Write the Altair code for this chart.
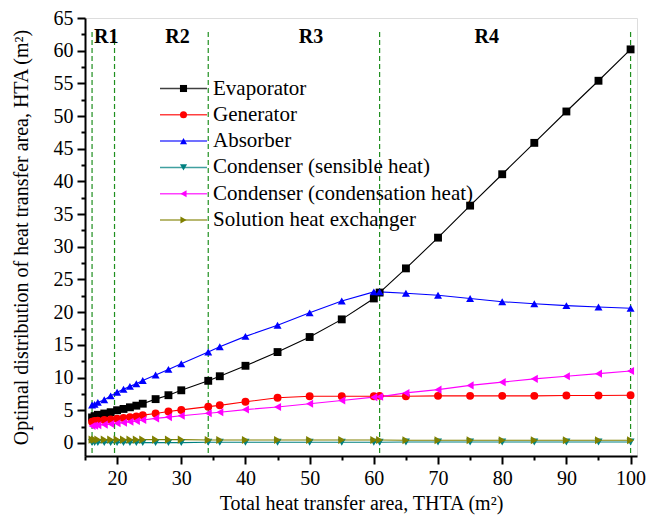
import altair as alt
import pandas as pd

# ---- data ----
thta = [16.1, 16.5, 17, 18, 19, 20, 21, 22, 23, 24, 26, 28, 30, 34.2, 36, 40,
        45, 50, 55, 60, 60.9, 65, 70, 75, 80, 85, 90, 95, 100]

evaporator = [3.9, 4.1, 4.3, 4.5, 4.7, 5.0, 5.2, 5.45, 5.7, 6.0, 6.7, 7.3, 8.05, 9.5, 10.2, 11.8,
              13.9, 16.2, 18.9, 22.1, 23.0, 26.7, 31.4, 36.3, 41.1, 45.9, 50.7, 55.4, 60.2]
generator = [3.25, 3.35, 3.4, 3.5, 3.6, 3.7, 3.8, 3.95, 4.05, 4.25, 4.5, 4.8, 5.05, 5.55, 5.75, 6.3,
             6.9, 7.15, 7.15, 7.15, 7.2, 7.15, 7.2, 7.2, 7.2, 7.2, 7.25, 7.25, 7.3]
absorber = [5.8, 5.9, 6.2, 6.6, 7.2, 7.75, 8.2, 8.65, 9.05, 9.55, 10.4, 11.25, 12.1, 13.9, 14.7, 16.3,
            18.0, 19.9, 21.7, 23.1, 23.1, 22.9, 22.6, 22.1, 21.6, 21.3, 21.0, 20.8, 20.6]
cond_sensible = [0.05, 0.05, 0.05, 0.05, 0.05, 0.05, 0.05, 0.05, 0.05, 0.05, 0.05, 0.05, 0.05, 0.1, 0.1, 0.1,
                 0.1, 0.1, 0.1, 0.1, 0.1, 0.15, 0.15, 0.15, 0.15, 0.15, 0.15, 0.15, 0.15]
cond_condensation = [2.6, 2.65, 2.7, 2.8, 2.9, 3.0, 3.1, 3.25, 3.35, 3.5, 3.75, 3.95, 4.15, 4.55, 4.7, 5.1,
                     5.5, 6.0, 6.5, 7.0, 7.05, 7.65, 8.15, 8.8, 9.3, 9.8, 10.2, 10.6, 11.0]
shx = [0.5, 0.5, 0.5, 0.5, 0.5, 0.5, 0.5, 0.5, 0.5, 0.5, 0.5, 0.5, 0.5, 0.45, 0.45, 0.45,
       0.45, 0.45, 0.45, 0.45, 0.45, 0.4, 0.4, 0.4, 0.4, 0.4, 0.4, 0.4, 0.4]

series_names = ["Evaporator", "Generator", "Absorber", "Condenser (sensible heat)",
                "Condenser (condensation heat)", "Solution heat exchanger"]
series_colors = ["#000000", "#FF0000", "#0000FF", "#008080", "#FF00FF", "#808000"]
series_shapes = ["square", "circle", "triangle-up", "triangle-down", "triangle-left", "triangle-right"]
series_sizes = [62, 66, 95, 95, 95, 95]

region_labels = ["R1", "R2", "R3", "R4"]
region_x = [18.3, 29.4, 50.2, 77.6]
boundaries = [16.1, 19.6, 34.2, 60.9, 100]

x_major = [20, 30, 40, 50, 60, 70, 80, 90, 100]
x_minor = [15, 25, 35, 45, 55, 65, 75, 85, 95]
y_major = [0, 5, 10, 15, 20, 25, 30, 35, 40, 45, 50, 55, 60, 65]
y_minor = [2.5, 7.5, 12.5, 17.5, 22.5, 27.5, 32.5, 37.5, 42.5, 47.5, 52.5, 57.5, 62.5]

# ---- tables ----
rows = []
for name, vals in zip(series_names, [evaporator, generator, absorber, cond_sensible,
                                     cond_condensation, shx]):
    for xv, yv in zip(thta, vals):
        rows.append({"series": name, "thta": xv, "hta": yv})
df = pd.DataFrame(rows)
df_leg = pd.DataFrame({"series": series_names, "idx": list(range(len(series_names)))})
df_reg = pd.DataFrame({"label": region_labels, "rx": region_x})
df_bnd = pd.DataFrame({"bx": boundaries})

FONT = "Liberation Serif"
W, H = 552, 438
xs = alt.Scale(domain=[15, 101], nice=False, zero=False)
ys = alt.Scale(domain=[-2, 65], nice=False, zero=False)
color = alt.Color("series:N", scale=alt.Scale(domain=series_names, range=series_colors), legend=None)
shape = alt.Shape("series:N", scale=alt.Scale(domain=series_names, range=series_shapes), legend=None)
size = alt.Size("series:N", scale=alt.Scale(domain=series_names, range=series_sizes), legend=None)

ax_common = dict(grid=False, domainColor="black", tickColor="black", labelColor="black",
                 titleColor="black", labelFont=FONT, titleFont=FONT, labelFontSize=20,
                 titleFontSize=20, titleFontWeight="normal", tickWidth=2, domainWidth=2)

x_major_axis = alt.Axis(orient="bottom", values=x_major, tickSize=8, labelPadding=4, titlePadding=5,
                        labelAngle=0, title="Total heat transfer area, THTA (m²)", **ax_common)
y_major_axis = alt.Axis(orient="left", values=y_major, tickSize=8, labelPadding=4, titlePadding=22,
                        title="Optimal distribution of heat transfer area, HTA (m²)", **ax_common)
x_minor_axis = alt.Axis(orient="bottom", values=x_minor, tickSize=4, labels=False, domain=False,
                        title=None, grid=False, tickColor="black", tickWidth=2)
y_minor_axis = alt.Axis(orient="left", values=y_minor, tickSize=4, labels=False, domain=False,
                        title=None, grid=False, tickColor="black", tickWidth=2)

base = alt.Chart(df)

minor = base.mark_point(opacity=0).encode(
    x=alt.X("thta:Q", scale=xs, axis=x_minor_axis),
    y=alt.Y("hta:Q", scale=ys, axis=y_minor_axis),
)

bnd = alt.Chart(df_bnd).mark_rule(color="#1f8f1f", strokeWidth=1.2, strokeDash=[5, 3]).encode(
    x=alt.X("bx:Q", scale=xs, axis=None),
    y=alt.value(14),
    y2=alt.value(H),
)

lines = base.mark_line(strokeWidth=1.1).encode(
    x=alt.X("thta:Q", scale=xs, axis=x_major_axis),
    y=alt.Y("hta:Q", scale=ys, axis=y_major_axis),
    color=color,
    detail="series:N",
)

points = base.mark_point(filled=True, opacity=1).encode(
    x=alt.X("thta:Q", scale=xs, axis=None),
    y=alt.Y("hta:Q", scale=ys, axis=None),
    color=color,
    shape=shape,
    size=size,
)

regions = alt.Chart(df_reg).mark_text(font=FONT, fontSize=20, fontWeight="bold", color="black",
                                      baseline="middle", align="center").encode(
    x=alt.X("rx:Q", scale=xs, axis=None),
    y=alt.value(19),
    text="label:N",
)

leg_base = alt.Chart(df_leg).transform_calculate(ly="70.5 + 26.3 * datum.idx")
leg_lines = leg_base.mark_rule(strokeWidth=1.5, opacity=0.75).encode(
    x=alt.value(75), x2=alt.value(122),
    y=alt.Y("ly:Q", scale=None, axis=None),
    color=color,
)
leg_pts = leg_base.mark_point(filled=True, size=50, opacity=1).encode(
    x=alt.value(98.5),
    y=alt.Y("ly:Q", scale=None, axis=None),
    color=color,
    shape=shape,
)
leg_txt = leg_base.mark_text(font=FONT, fontSize=21, align="left", baseline="middle",
                             color="black").encode(
    x=alt.value(128),
    y=alt.Y("ly:Q", scale=None, axis=None),
    text="series:N",
)

chart = alt.layer(minor, bnd, lines, points, regions, leg_lines, leg_pts, leg_txt).resolve_axis(
    x="independent", y="independent"
).properties(
    width=W, height=H,
    autosize=alt.AutoSizeParams(type="none"),
    padding={"left": 77, "top": 10, "right": 10, "bottom": 61},
).configure_view(stroke=None).configure(background="white")

chart.save("out.html", embed_options={"renderer": "svg", "actions": False})
